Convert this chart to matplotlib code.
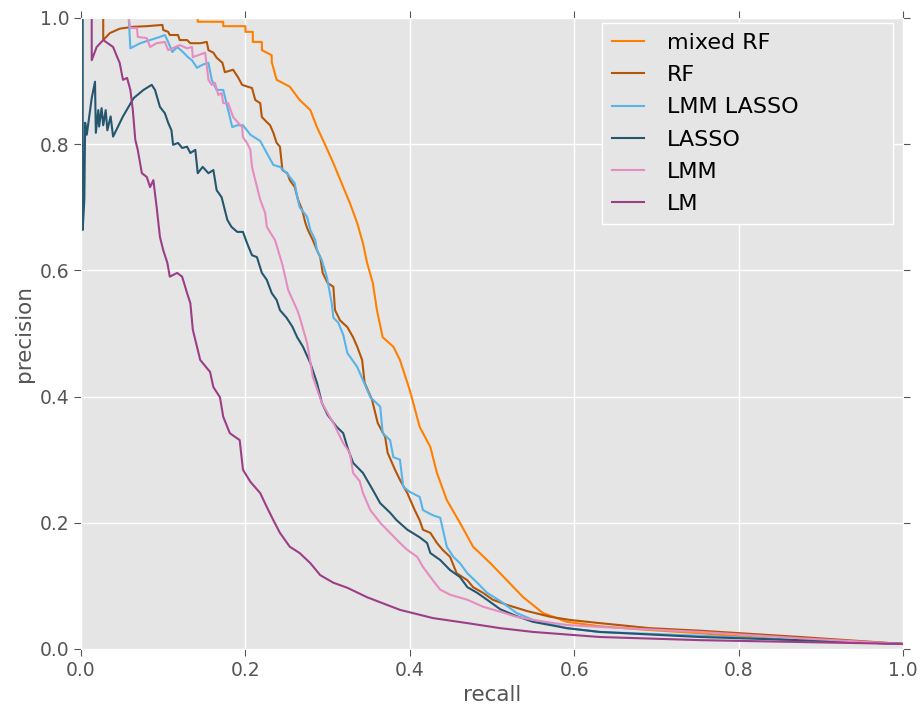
import matplotlib
matplotlib.use('Agg')
import matplotlib.pyplot as plt

# precision / recall curves
mixed_rf_recall = [0, 0.142, 0.142, 0.173, 0.173, 0.200, 0.200, 0.209, 0.209, 0.220, 0.220, 0.232,
                   0.232, 0.238, 0.254, 0.266, 0.279, 0.287, 0.297, 0.307, 0.319, 0.327, 0.336,
                   0.343, 0.348, 0.355, 0.360, 0.367, 0.380, 0.388, 0.400, 0.412, 0.425, 0.433,
                   0.445, 0.461, 0.477, 0.498, 0.518, 0.538, 0.562, 0.591, 0.631, 0.692, 0.753,
                   0.863, 1.0]
mixed_rf_prec = [1.0, 1.0, 0.994, 0.994, 0.987, 0.987, 0.978, 0.978, 0.962, 0.962, 0.949, 0.941,
                 0.930, 0.902, 0.891, 0.870, 0.854, 0.827, 0.799, 0.770, 0.732, 0.707, 0.675,
                 0.643, 0.612, 0.580, 0.537, 0.494, 0.479, 0.458, 0.410, 0.352, 0.320, 0.279,
                 0.236, 0.200, 0.162, 0.136, 0.109, 0.082, 0.057, 0.043, 0.036, 0.030, 0.025,
                 0.014, 0.008]

rf_recall = [0, 0.027, 0.027, 0.035, 0.047, 0.063, 0.080, 0.099, 0.100, 0.106, 0.108, 0.118, 0.120,
             0.129, 0.133, 0.145, 0.153, 0.155, 0.161, 0.165, 0.172, 0.175, 0.185, 0.191, 0.196,
             0.203, 0.208, 0.212, 0.218, 0.220, 0.226, 0.230, 0.234, 0.238, 0.242, 0.245, 0.251,
             0.254, 0.260, 0.264, 0.269, 0.273, 0.276, 0.282, 0.287, 0.291, 0.294, 0.300, 0.307,
             0.309, 0.315, 0.324, 0.331, 0.336, 0.342, 0.345, 0.354, 0.361, 0.370, 0.373, 0.382,
             0.388, 0.397, 0.406, 0.412, 0.416, 0.425, 0.433, 0.440, 0.449, 0.457, 0.470, 0.477,
             0.489, 0.501, 0.518, 0.543, 0.571, 0.595, 0.631, 0.692, 0.753, 0.875, 1.0]
rf_prec = [1.0, 1.0, 0.965, 0.976, 0.983, 0.986, 0.987, 0.989, 0.981, 0.978, 0.973, 0.973, 0.965,
           0.965, 0.960, 0.960, 0.962, 0.949, 0.945, 0.937, 0.929, 0.914, 0.918, 0.906, 0.894,
           0.891, 0.889, 0.870, 0.865, 0.843, 0.835, 0.830, 0.818, 0.802, 0.796, 0.759, 0.754,
           0.743, 0.732, 0.712, 0.696, 0.675, 0.664, 0.648, 0.632, 0.621, 0.596, 0.580, 0.574,
           0.537, 0.521, 0.510, 0.494, 0.479, 0.458, 0.422, 0.395, 0.358, 0.336, 0.311, 0.284,
           0.268, 0.247, 0.220, 0.204, 0.189, 0.184, 0.168, 0.157, 0.146, 0.120, 0.109, 0.098,
           0.089, 0.078, 0.070, 0.060, 0.051, 0.046, 0.041, 0.033, 0.029, 0.019, 0.008]

lmm_lasso_recall = [0, 0.058, 0.060, 0.072, 0.084, 0.096, 0.102, 0.106, 0.111, 0.117, 0.124, 0.130,
                    0.135, 0.141, 0.148, 0.155, 0.159, 0.165, 0.173, 0.178, 0.184, 0.190, 0.197,
                    0.206, 0.218, 0.226, 0.234, 0.242, 0.251, 0.260, 0.263, 0.266, 0.275, 0.279,
                    0.285, 0.287, 0.293, 0.299, 0.302, 0.305, 0.307, 0.313, 0.319, 0.324, 0.336,
                    0.343, 0.352, 0.364, 0.367, 0.376, 0.380, 0.388, 0.392, 0.400, 0.412, 0.416,
                    0.428, 0.437, 0.445, 0.453, 0.461, 0.470, 0.482, 0.494, 0.510, 0.530, 0.550,
                    0.591, 0.631, 0.753, 0.875, 1.0]
lmm_lasso_prec = [1.0, 1.0, 0.952, 0.960, 0.965, 0.970, 0.973, 0.962, 0.946, 0.954, 0.946, 0.938,
                  0.933, 0.921, 0.926, 0.929, 0.902, 0.886, 0.886, 0.859, 0.827, 0.830, 0.830,
                  0.815, 0.805, 0.786, 0.767, 0.764, 0.753, 0.738, 0.716, 0.700, 0.685, 0.664,
                  0.648, 0.632, 0.616, 0.590, 0.569, 0.548, 0.525, 0.517, 0.498, 0.469, 0.447,
                  0.426, 0.399, 0.384, 0.342, 0.331, 0.304, 0.300, 0.257, 0.249, 0.241, 0.220,
                  0.212, 0.208, 0.162, 0.146, 0.136, 0.120, 0.105, 0.089, 0.076, 0.057, 0.046,
                  0.033, 0.027, 0.021, 0.014, 0.008]

lasso_recall = [0, 0.002, 0.002, 0.004, 0.005, 0.007, 0.013, 0.017, 0.018, 0.021, 0.022, 0.025,
                0.027, 0.030, 0.032, 0.036, 0.039, 0.051, 0.064, 0.076, 0.086, 0.090, 0.096, 0.102,
                0.106, 0.110, 0.112, 0.118, 0.123, 0.129, 0.133, 0.139, 0.142, 0.148, 0.155, 0.161,
                0.165, 0.171, 0.178, 0.183, 0.190, 0.197, 0.202, 0.208, 0.214, 0.220, 0.226, 0.232,
                0.238, 0.242, 0.250, 0.257, 0.263, 0.270, 0.279, 0.287, 0.293, 0.300, 0.311, 0.319,
                0.324, 0.331, 0.343, 0.355, 0.364, 0.376, 0.384, 0.397, 0.412, 0.421, 0.425, 0.437,
                0.449, 0.461, 0.470, 0.482, 0.494, 0.510, 0.530, 0.550, 0.591, 0.631, 0.753, 0.875,
                1.0]
lasso_prec = [1.0, 1.0, 0.664, 0.712, 0.834, 0.815, 0.873, 0.899, 0.818, 0.854, 0.828, 0.857,
              0.830, 0.854, 0.822, 0.844, 0.812, 0.844, 0.873, 0.886, 0.894, 0.886, 0.859, 0.849,
              0.834, 0.822, 0.799, 0.802, 0.794, 0.796, 0.786, 0.791, 0.754, 0.764, 0.754, 0.759,
              0.727, 0.716, 0.680, 0.669, 0.661, 0.661, 0.643, 0.624, 0.621, 0.596, 0.585, 0.564,
              0.553, 0.537, 0.525, 0.511, 0.494, 0.479, 0.453, 0.422, 0.390, 0.371, 0.352, 0.342,
              0.320, 0.295, 0.279, 0.252, 0.231, 0.216, 0.204, 0.189, 0.177, 0.168, 0.152, 0.141,
              0.125, 0.114, 0.098, 0.089, 0.078, 0.063, 0.052, 0.043, 0.033, 0.027, 0.019, 0.014,
              0.008]

lmm_recall = [0, 0.058, 0.060, 0.068, 0.069, 0.080, 0.084, 0.092, 0.102, 0.106, 0.120, 0.129, 0.135,
              0.136, 0.151, 0.155, 0.159, 0.163, 0.167, 0.171, 0.173, 0.179, 0.185, 0.196, 0.197,
              0.202, 0.206, 0.208, 0.212, 0.218, 0.224, 0.226, 0.236, 0.245, 0.252, 0.263, 0.266,
              0.275, 0.282, 0.293, 0.307, 0.319, 0.327, 0.331, 0.339, 0.343, 0.352, 0.364, 0.376,
              0.388, 0.397, 0.409, 0.416, 0.428, 0.437, 0.449, 0.470, 0.489, 0.510, 0.530, 0.550,
              0.591, 0.631, 0.753, 0.875, 1.0]
lmm_prec = [1.0, 1.0, 0.984, 0.984, 0.970, 0.968, 0.954, 0.960, 0.962, 0.949, 0.957, 0.952, 0.954,
            0.938, 0.945, 0.902, 0.894, 0.897, 0.878, 0.881, 0.865, 0.865, 0.843, 0.827, 0.811,
            0.802, 0.791, 0.764, 0.743, 0.712, 0.691, 0.669, 0.648, 0.609, 0.569, 0.537, 0.526,
            0.485, 0.431, 0.390, 0.358, 0.326, 0.311, 0.279, 0.266, 0.247, 0.220, 0.200, 0.184,
            0.168, 0.157, 0.146, 0.130, 0.109, 0.094, 0.086, 0.078, 0.067, 0.059, 0.051, 0.046,
            0.038, 0.035, 0.027, 0.017, 0.008]

lm_recall = [0, 0.013, 0.013, 0.019, 0.027, 0.039, 0.044, 0.047, 0.051, 0.056, 0.060, 0.063, 0.066,
             0.069, 0.074, 0.080, 0.084, 0.088, 0.092, 0.096, 0.100, 0.105, 0.108, 0.117, 0.123,
             0.129, 0.133, 0.136, 0.145, 0.157, 0.161, 0.169, 0.173, 0.181, 0.193, 0.197, 0.206,
             0.218, 0.226, 0.234, 0.242, 0.254, 0.266, 0.279, 0.291, 0.307, 0.324, 0.348, 0.388,
             0.428, 0.470, 0.510, 0.550, 0.631, 0.753, 0.875, 1.0]
lm_prec = [1.0, 1.0, 0.933, 0.954, 0.965, 0.954, 0.938, 0.929, 0.902, 0.905, 0.886, 0.854, 0.807,
           0.791, 0.754, 0.748, 0.732, 0.743, 0.700, 0.653, 0.632, 0.612, 0.590, 0.596, 0.590,
           0.564, 0.548, 0.506, 0.458, 0.439, 0.415, 0.399, 0.368, 0.342, 0.331, 0.284, 0.265,
           0.247, 0.225, 0.204, 0.184, 0.162, 0.152, 0.136, 0.117, 0.105, 0.097, 0.082, 0.062,
           0.049, 0.041, 0.033, 0.027, 0.019, 0.014, 0.011, 0.008]

labels = ['mixed RF', 'RF', 'LMM LASSO', 'LASSO', 'LMM', 'LM']
colors = ['#ff8000', '#b3560a', '#56b4e9', '#24566f', '#e58cc0', '#9c3d88']
curves = [(mixed_rf_recall, mixed_rf_prec), (rf_recall, rf_prec),
          (lmm_lasso_recall, lmm_lasso_prec), (lasso_recall, lasso_prec),
          (lmm_recall, lmm_prec), (lm_recall, lm_prec)]

fig = plt.figure(figsize=(9.23, 7.16), dpi=100)
ax = fig.add_axes([0.0878, 0.0936, 0.8905, 0.8813])
ax.set_facecolor('#e5e5e5')
for s in ax.spines.values():
    s.set_color('white')
ax.grid(True, color='white', lw=1.0)
ax.set_axisbelow(True)

for (r, p), lab, c in zip(curves, labels, colors):
    ax.plot(r, p, color=c, lw=1.5, label=lab)

ax.set_xlim(0, 1)
ax.set_ylim(0, 1)
ax.set_xticks([0, 0.2, 0.4, 0.6, 0.8, 1.0])
ax.set_yticks([0, 0.2, 0.4, 0.6, 0.8, 1.0])
ax.tick_params(direction='out', top=True, right=True, length=5, color='#555555',
               labelcolor='#555555', labelsize=13.5)
ax.set_xlabel('recall', fontsize=15.5, color='#555555')
ax.set_ylabel('precision', fontsize=15.5, color='#555555')

leg = ax.legend(loc='upper left', bbox_to_anchor=(0.634, 0.672, 0.354, 0.320), mode='expand',
                borderaxespad=0, fontsize=16, handlelength=1.45, handletextpad=1.0,
                labelspacing=0.55, borderpad=0.45, fancybox=False, framealpha=1.0)
leg.get_frame().set_facecolor('#e5e5e5')
leg.get_frame().set_edgecolor('white')

fig.savefig('out.png', dpi=100)
